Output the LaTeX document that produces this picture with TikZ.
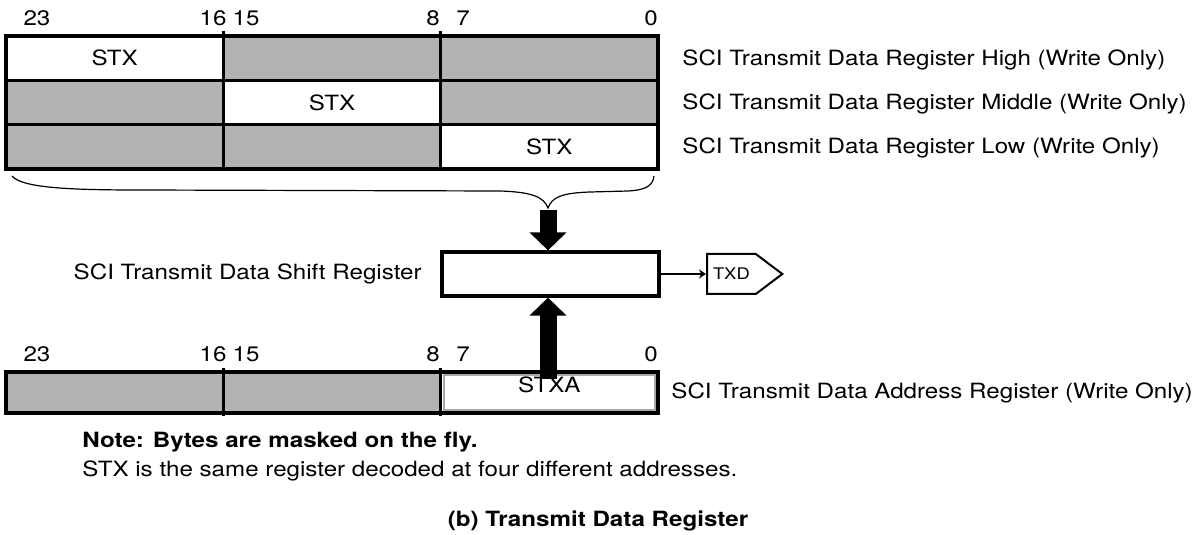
\documentclass[tikz,border=0pt]{standalone}
\usepackage{fontspec}
\setmainfont{TeX Gyre Heros}[FakeStretch=1.15]
\usetikzlibrary{arrows.meta,positioning,calc,shapes.symbols}
\definecolor{rgInk}  {HTML}{000000}
\definecolor{rgShade}{HTML}{B3B3B3}
\definecolor{rgRim}  {HTML}{A8A8A8}

\begin{document}
\begin{tikzpicture}[x=0.5pt,y=-0.5pt,font=\fontsize{10.5}{12.5}\selectfont,
    cell/.style={draw=rgInk,line width=1.6pt,minimum width=108.67pt,
                 minimum height=22.17pt,inner sep=0pt,outer sep=0pt},
    shade/.style={cell,fill=rgShade},
    bitno/.style={anchor=base,inner sep=0pt},
    regname/.style={anchor=base west,inner sep=0pt},
    bus/.style={line width=8.5pt,-{Triangle[length=9pt,width=18pt]}}]
  \useasboundingbox (0,0) rectangle (1196,535);

  % bit numbers
  \node[bitno] (t23) at (37,26) {23};
  \node[bitno] (t16) at (213,26) {16};
  \node[bitno] (t15) at (246,26) {15};
  \node[bitno] (t8)  at (433,26) {8};
  \node[bitno] (t7)  at (463,26) {7};
  \node[bitno] (t0)  at (651,26) {0};

  % STX seen at three addresses
  \node[cell,anchor=north west] (h1) at (6,36) {STX};
  \node[shade,right=0pt of h1] (h2) {};
  \node[shade,right=0pt of h2] (h3) {};
  \node[shade,below=0pt of h1] (m1) {};
  \node[cell,right=0pt of m1] (m2) {STX};
  \node[shade,right=0pt of m2] (m3) {};
  \node[shade,below=0pt of m1] (l1) {};
  \node[shade,right=0pt of l1] (l2) {};
  \node[cell,right=0pt of l2] (l3) {STX};
  \draw[line width=1.6pt] (h1.north east) -- ++(0,-5) (h2.north east) -- ++(0,-5);

  \node[regname] (nh) at (682,66)  {SCI Transmit Data Register High (Write Only)};
  \node[regname] (nm) at (682,110) {SCI Transmit Data Register Middle (Write Only)};
  \node[regname] (nl) at (682,154) {SCI Transmit Data Register Low (Write Only)};

  % brace
  \coordinate (bl) at (12,176);
  \coordinate (bt) at (548,208);
  \coordinate (br) at (654,176);
  \draw[line width=0.6pt] (bl) .. controls (22,188) and (70,190) .. (140,190)
    -- (500,191) .. controls (532,192) and (544,197) .. (bt)
    .. controls (552,197) and (562,193) .. (590,192)
    -- (628,191) .. controls (647,190) and (653,185) .. (br);

  % shift register and output
  \node[draw,line width=1.6pt,minimum width=108.5pt,minimum height=22pt,
        inner sep=0pt] (tsr) at (550.5,274) {};
  \node[anchor=base east,inner sep=0pt] (tsrname) at (422,279)
    {SCI Transmit Data Shift Register};
  \node[signal,signal to=east,draw,line width=1pt,signal pointer angle=74,
        minimum height=20pt,inner xsep=3pt,inner ysep=0pt,anchor=west,
        font=\fontsize{8}{10}\selectfont] (txd) at (706,274) {TXD};
  \draw[line width=0.85pt,-{Stealth[length=3.5pt,width=4.5pt]}] (tsr.east) -- (txd.west);
  \draw[bus] ($(bt)+(0,2)$) -- (bt |- tsr.north);

  % address register
  \node[bitno] (b23) at (37,361) {23};
  \node[bitno] (b16) at (213,361) {16};
  \node[bitno] (b15) at (246,361) {15};
  \node[bitno] (b8)  at (433,361) {8};
  \node[bitno] (b7)  at (463,361) {7};
  \node[bitno] (b0)  at (651,361) {0};
  \node[shade,minimum height=20.5pt,anchor=north west] (a1) at (6,372) {};
  \node[shade,minimum height=20.5pt,right=0pt of a1] (a2) {};
  \node[cell,minimum height=20.5pt,right=0pt of a2] (a3) {};
  \draw[rgRim,line width=1pt] ($(a3.north west)+(3,3)$) rectangle ($(a3.south east)+(-3,-3)$);
  \draw[line width=1.6pt] (a1.north east) -- ++(0,-4) (a2.north east) -- ++(0,-4)
    (a1.south east) -- ++(0,3) (a2.south east) -- ++(0,3);
  \coordinate (busin) at (548,379);
  \draw[bus] (busin) -- (busin |- tsr.south);
  \node[anchor=north,inner sep=0pt] (stxa) at ($(a3.north)+(0,4)$) {STXA};
  \node[regname] (na) at (671,399) {SCI Transmit Data Address Register (Write Only)};

  \node[anchor=base west,inner sep=0pt] (note) at (82,447)
    {\textbf{Note: Bytes are masked on the fly.}};
  \node[anchor=base west,inner sep=0pt] (note2) at (82,476)
    {STX is the same register decoded at four different addresses.};
  \node[anchor=base,inner sep=0pt] (cap) at (598,526) {\textbf{(b) Transmit Data Register}};
\end{tikzpicture}
\end{document}
